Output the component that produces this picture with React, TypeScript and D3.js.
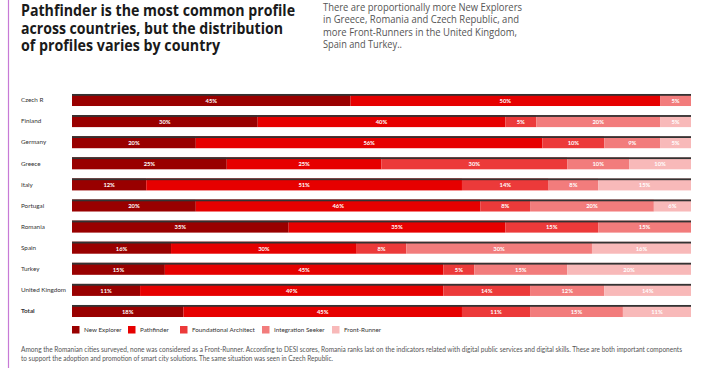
import React, { useEffect, useRef } from 'react';
import * as d3 from 'd3';

// Stacked 100% bars: profile share per country.

const countries = ['Czech R', 'Finland', 'Germany', 'Greece', 'Italy', 'Portugal', 'Romania', 'Spain', 'Turkey', 'United Kingdom', 'Total'];
const profiles = ['New Explorer', 'Pathfinder', 'Foundational Architect', 'Integration Seeker', 'Front-Runner'];
const colors = ['#990000', '#e60000', '#ec3a3a', '#f27c7c', '#f8b9b9'];

const newExplorer = [45, 30, 20, 25, 12, 20, 35, 16, 15, 11, 18];
const pathfinder = [50, 40, 56, 25, 51, 46, 35, 30, 45, 49, 45];
const foundational = [0, 5, 10, 30, 14, 8, 15, 8, 5, 14, 11];
const integration = [5, 20, 9, 10, 8, 20, 15, 30, 15, 12, 15];
const frontRunner = [0, 5, 5, 10, 15, 6, 0, 16, 20, 14, 11];

const titleLines = [
  'Pathfinder is the most common profile',
  'across countries, but the distribution',
  'of profiles varies by country',
];
const titleWidths = [274, 262, 199];

const subLines = [
  'There are proportionally more New Explorers',
  'in Greece, Romania and Czech Republic, and',
  'more Front-Runners in the United Kingdom,',
  'Spain and Turkey..',
];
const subWidths = [199, 196, 194, 79];

const noteLines = [
  'Among the Romanian cities surveyed, none was considered as a Front-Runner. According to DESI scores, Romania ranks last on the indicators related with digital public services and digital skills. These are both important components',
  'to support the adoption and promotion of smart city solutions. The same situation was seen in Czech Republic.',
];
const noteWidths = [661, 312];

const W = 728;
const H = 368;
const FONT = "'Open Sans', 'DejaVu Sans', sans-serif";
const SMALL = "Lato, 'DejaVu Sans', sans-serif";

const App = () => {
  const svgRef = useRef(null);

  useEffect(() => {
    const svg = d3.select(svgRef.current);
    svg.selectAll('*').remove();

    // left accent rule
    svg.append('line')
      .attr('x1', 8.5).attr('x2', 8.5).attr('y1', 0).attr('y2', H)
      .attr('stroke', '#c77ad6').attr('stroke-width', 1.2);

    // title
    titleLines.forEach((t, i) => {
      svg.append('text')
        .attr('x', 21).attr('y', 16 + i * 17.5)
        .attr('font-family', FONT).attr('font-weight', 700).attr('font-size', 16)
        .attr('fill', '#1a1a1a')
        .attr('textLength', titleWidths[i]).attr('lengthAdjust', 'spacingAndGlyphs')
        .text(t);
    });

    subLines.forEach((t, i) => {
      svg.append('text')
        .attr('x', 323).attr('y', 11 + i * 12.4)
        .attr('font-family', FONT).attr('font-size', 11).attr('fill', '#555')
        .attr('textLength', subWidths[i]).attr('lengthAdjust', 'spacingAndGlyphs')
        .text(t);
    });

    const series = [newExplorer, pathfinder, foundational, integration, frontRunner];
    const rows = countries.map((c, i) => {
      const r = { country: c };
      profiles.forEach((p, j) => { r[p] = series[j][i]; });
      return r;
    });
    const stacked = d3.stack().keys(profiles)(rows);

    const x = d3.scaleLinear().domain([0, 100]).range([72, 691]);
    const y = d3.scaleBand().domain(countries).range([89.45, 321.55])
      .paddingInner(0.43).paddingOuter(0.215);
    const color = d3.scaleOrdinal().domain(profiles).range(colors);

    // country labels
    svg.append('g').selectAll('text').data(countries).enter().append('text')
      .attr('x', 21)
      .attr('y', d => y(d) + y.bandwidth() / 2 + 2.2)
      .attr('font-family', SMALL).attr('font-size', 6.3)
      .attr('font-weight', d => d === 'Total' ? 700 : 400)
      .attr('fill', '#333')
      .text(d => d);

    const layers = svg.append('g').selectAll('g').data(stacked).enter().append('g')
      .attr('fill', d => color(d.key));

    layers.selectAll('rect').data(d => d).enter().append('rect')
      .attr('x', d => x(d[0]))
      .attr('y', d => y(d.data.country))
      .attr('width', d => x(d[1]) - x(d[0]))
      .attr('height', y.bandwidth());

    // dark rule along top of each bar
    svg.append('g').selectAll('rect').data(countries).enter().append('rect')
      .attr('x', x(0)).attr('width', x(100) - x(0))
      .attr('y', d => y(d)).attr('height', 1.8)
      .attr('fill', '#333');

    // value labels
    layers.selectAll('text').data(d => d.filter(s => s[1] - s[0] > 0)).enter().append('text')
      .attr('x', d => (x(d[0]) + x(d[1])) / 2)
      .attr('y', d => y(d.data.country) + y.bandwidth() / 2 + 2.8)
      .attr('text-anchor', 'middle')
      .attr('font-family', SMALL).attr('font-size', 5.8).attr('font-weight', 700)
      .attr('fill', '#fff')
      .text(d => `${d[1] - d[0]}%`);

    // legend
    const legendX = [72, 128, 180, 262, 332];
    const lg = svg.append('g').selectAll('g').data(profiles).enter().append('g')
      .attr('transform', (d, i) => `translate(${legendX[i]},326)`);
    lg.append('rect').attr('width', 7.5).attr('height', 7.5).attr('fill', d => color(d));
    lg.append('text').attr('x', 12).attr('y', 6)
      .attr('font-family', SMALL).attr('font-size', 6.3).attr('fill', '#333')
      .text(d => d);

    noteLines.forEach((t, i) => {
      svg.append('text')
        .attr('x', 21).attr('y', 352 + i * 9)
        .attr('font-family', SMALL).attr('font-size', 7.2).attr('fill', '#555')
        .attr('textLength', noteWidths[i]).attr('lengthAdjust', 'spacingAndGlyphs')
        .text(t);
    });
  }, []);

  return (
    <svg ref={svgRef} width={W} height={H}
      style={{ position: 'absolute', left: 0, top: 0, background: '#fff' }} />
  );
};

export default App;
